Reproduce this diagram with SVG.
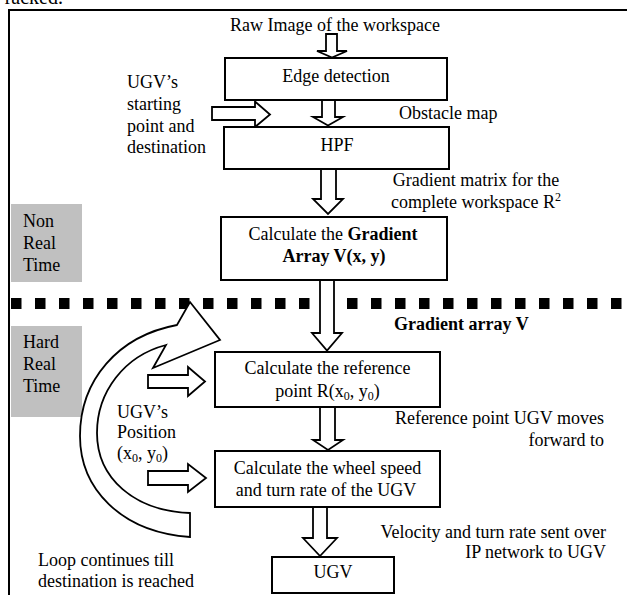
<svg xmlns="http://www.w3.org/2000/svg" width="627" height="595" viewBox="0 0 627 595">
<style>
text{font-family:"Liberation Serif","Times New Roman",serif;font-size:18px;fill:#000}
.c{text-anchor:middle}
.e{text-anchor:end}
.b{font-weight:bold}
.box{fill:#fff;stroke:#000;stroke-width:2}
.arr{fill:#fff;stroke:#000;stroke-width:1.8;stroke-linejoin:miter}
.gray{fill:#c0c0c0}
</style>
<rect width="627" height="595" fill="#fff"/>
<text x="63" y="4" class="e" style="font-size:20px">racked.</text>
<path d="M627,10 H9 V595" fill="none" stroke="#000" stroke-width="2"/>
<g id="zone-nonrealtime">
<rect class="gray" x="11" y="204" width="71" height="78"/>
<text x="23" y="227">Non</text><text x="23" y="249">Real</text><text x="23" y="271">Time</text>
</g>
<g id="zone-hardrealtime">
<rect class="gray" x="11" y="326" width="71" height="91"/>
<text x="23" y="348">Hard</text><text x="23" y="370">Real</text><text x="23" y="392">Time</text>
</g>
<line id="divider" x1="11" y1="303.5" x2="627" y2="303.5" stroke="#000" stroke-width="11" stroke-dasharray="10.5 13.5"/>
<g id="connectors">
<polygon class="arr" points="326,34 326,51 317,51 332,57.5 347,51 337,51 337,34"/>
<polygon class="arr" points="322,100 322,117 313,117 328,125.5 343,117 335,117 335,100"/>
<polygon class="arr" points="212,107 255,107 255,101.5 270,114.5 255,127 255,120 212,120"/>
<polygon class="arr" points="321,169 321,199 313,199 328,214 343,199 336,199 336,169"/>
<polygon class="arr" points="320,280 320,333 312,333 327,350.5 342,333 334,333 334,280"/>
<polygon class="arr" points="148,375 188,375 188,367 205,381.5 188,396 188,388 148,388"/>
<polygon class="arr" points="320,407 320,440 313,440 328,450 343,440 335,440 335,407"/>
<polygon class="arr" points="148,471 188,471 188,464 206,478 188,492 188,485 148,485"/>
<polygon class="arr" points="313,507 313,538 303,538 320,556 337,538 327,538 327,507"/>
<path id="loop" class="arr" d="M190,537 C120,532 80,488 80,436 C80,380 118,336 177,325 L190,302 L220,340 L153,368 L166,345 C124,356 97,392 97,433 C97,478 134,511 190,513 Z"/>
</g>
<g id="label-raw"><text x="335" y="30.5" class="c">Raw Image of the workspace</text></g>
<g id="node-edge">
<rect class="box" x="225" y="58" width="222" height="42"/>
<text x="336" y="82" class="c">Edge detection</text>
</g>
<g id="label-start">
<text x="127" y="88">UGV’s</text><text x="127" y="110">starting</text><text x="127" y="131.5">point and</text><text x="127" y="153">destination</text>
</g>
<g id="label-obstacle"><text x="399" y="119">Obstacle map</text></g>
<g id="node-hpf">
<rect class="box" x="224" y="127" width="225" height="42"/>
<text x="337" y="151" class="c">HPF</text>
</g>
<g id="label-gradmatrix">
<text x="476" y="186" class="c">Gradient matrix for the</text>
<text x="476" y="208" class="c">complete workspace R<tspan dy="-7" style="font-size:12px">2</tspan></text>
</g>
<g id="node-gradient">
<rect class="box" x="221" y="217" width="226" height="63"/>
<text x="333" y="239.5" class="c">Calculate the <tspan class="b">Gradient</tspan></text>
<text x="334" y="262" class="c b">Array V(x, y)</text>
</g>
<g id="label-gradarray"><text x="394" y="330" class="b">Gradient array V</text></g>
<g id="node-reference">
<rect class="box" x="215" y="352" width="225" height="55"/>
<text x="327.5" y="373.5" class="c">Calculate the reference</text>
<text x="327.5" y="396.5" class="c">point R(x<tspan dy="3" style="font-size:12px">0</tspan><tspan dy="-3">, y</tspan><tspan dy="3" style="font-size:12px">0</tspan><tspan dy="-3">)</tspan></text>
</g>
<g id="label-position">
<text x="117" y="418">UGV’s</text><text x="117" y="438">Position</text>
<text x="117" y="459">(x<tspan dy="3" style="font-size:12px">0</tspan><tspan dy="-3">, y</tspan><tspan dy="3" style="font-size:12px">0</tspan><tspan dy="-3">)</tspan></text>
</g>
<g id="label-refpoint">
<text x="604" y="424" class="e">Reference point UGV moves</text>
<text x="604" y="446" class="e">forward to</text>
</g>
<g id="node-wheel">
<rect class="box" x="215" y="451" width="225" height="56"/>
<text x="327.5" y="474" class="c">Calculate the wheel speed</text>
<text x="326" y="496" class="c">and turn rate of the UGV</text>
</g>
<g id="label-velocity">
<text x="606" y="538" class="e">Velocity and turn rate sent over</text>
<text x="606" y="558" class="e">IP network to UGV</text>
</g>
<g id="label-loop">
<text x="38" y="566">Loop continues till</text>
<text x="38" y="587">destination is reached</text>
</g>
<g id="node-ugv">
<rect class="box" x="272" y="557" width="122" height="36"/>
<text x="333" y="578" class="c">UGV</text>
</g>
</svg>
